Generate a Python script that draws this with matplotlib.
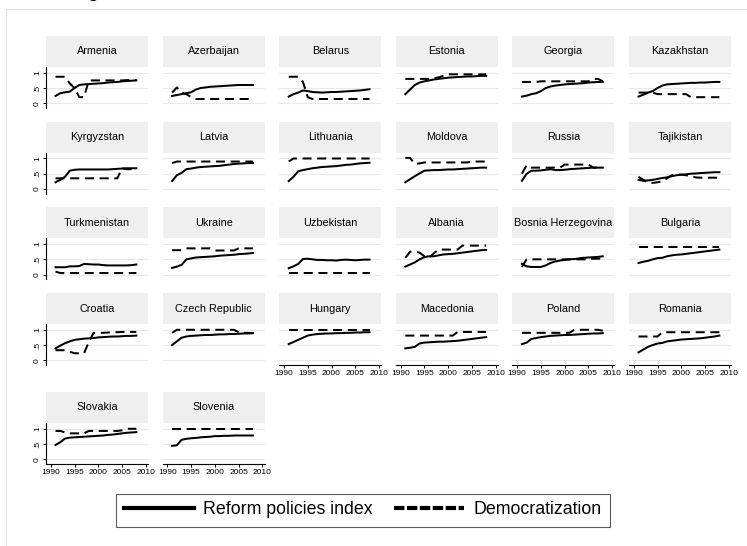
import numpy as np
import matplotlib
matplotlib.use("Agg")
import matplotlib.pyplot as plt
from matplotlib.lines import Line2D
from matplotlib.patches import Rectangle

plt.rcParams['font.family'] = ['Liberation Sans', 'DejaVu Sans']

years = list(range(1991, 2009))

countries = ["Armenia", "Azerbaijan", "Belarus", "Estonia", "Georgia", "Kazakhstan",
             "Kyrgyzstan", "Latvia", "Lithuania", "Moldova", "Russia", "Tajikistan",
             "Turkmenistan", "Ukraine", "Uzbekistan", "Albania", "Bosnia Herzegovina", "Bulgaria",
             "Croatia", "Czech Republic", "Hungary", "Macedonia", "Poland", "Romania",
             "Slovakia", "Slovenia"]

# reform policies index, 1991-2008
reform = {
    "Armenia":      [0.24, 0.33, 0.36, 0.38, 0.50, 0.60, 0.62, 0.63, 0.64, 0.65, 0.66, 0.68, 0.69, 0.70, 0.72, 0.73, 0.74, 0.75],
    "Azerbaijan":   [0.24, 0.27, 0.30, 0.33, 0.36, 0.45, 0.50, 0.52, 0.54, 0.55, 0.56, 0.57, 0.58, 0.59, 0.60, 0.60, 0.60, 0.60],
    "Belarus":      [0.22, 0.30, 0.35, 0.42, 0.40, 0.37, 0.36, 0.35, 0.36, 0.37, 0.37, 0.38, 0.39, 0.40, 0.41, 0.42, 0.44, 0.46],
    "Estonia":      [0.30, 0.45, 0.60, 0.68, 0.72, 0.75, 0.78, 0.80, 0.82, 0.84, 0.85, 0.86, 0.87, 0.88, 0.88, 0.89, 0.90, 0.90],
    "Georgia":      [0.22, 0.25, 0.30, 0.33, 0.40, 0.50, 0.55, 0.58, 0.60, 0.62, 0.63, 0.64, 0.65, 0.66, 0.68, 0.69, 0.70, 0.70],
    "Kazakhstan":   [0.22, 0.28, 0.35, 0.40, 0.50, 0.58, 0.62, 0.63, 0.64, 0.65, 0.66, 0.67, 0.67, 0.68, 0.68, 0.69, 0.70, 0.70],
    "Kyrgyzstan":   [0.22, 0.30, 0.40, 0.60, 0.63, 0.64, 0.64, 0.64, 0.64, 0.64, 0.64, 0.64, 0.65, 0.66, 0.67, 0.68, 0.68, 0.68],
    "Latvia":       [0.26, 0.45, 0.53, 0.65, 0.67, 0.70, 0.72, 0.73, 0.74, 0.75, 0.76, 0.78, 0.80, 0.82, 0.83, 0.84, 0.85, 0.85],
    "Lithuania":    [0.26, 0.40, 0.58, 0.62, 0.65, 0.68, 0.70, 0.72, 0.73, 0.74, 0.75, 0.77, 0.79, 0.80, 0.82, 0.84, 0.85, 0.86],
    "Moldova":      [0.22, 0.32, 0.42, 0.51, 0.60, 0.61, 0.62, 0.62, 0.63, 0.64, 0.64, 0.65, 0.66, 0.67, 0.68, 0.69, 0.70, 0.70],
    "Russia":       [0.27, 0.50, 0.60, 0.60, 0.61, 0.63, 0.65, 0.62, 0.62, 0.63, 0.65, 0.66, 0.67, 0.68, 0.69, 0.70, 0.70, 0.70],
    "Tajikistan":   [0.30, 0.27, 0.28, 0.30, 0.33, 0.36, 0.38, 0.42, 0.45, 0.47, 0.48, 0.50, 0.51, 0.52, 0.53, 0.54, 0.55, 0.55],
    "Turkmenistan": [0.24, 0.24, 0.24, 0.27, 0.27, 0.28, 0.35, 0.34, 0.33, 0.33, 0.31, 0.30, 0.30, 0.30, 0.30, 0.30, 0.31, 0.33],
    "Ukraine":      [0.22, 0.26, 0.32, 0.50, 0.53, 0.56, 0.57, 0.58, 0.59, 0.60, 0.62, 0.63, 0.64, 0.65, 0.67, 0.68, 0.69, 0.71],
    "Uzbekistan":   [0.21, 0.27, 0.35, 0.51, 0.52, 0.50, 0.48, 0.48, 0.47, 0.47, 0.46, 0.48, 0.49, 0.48, 0.47, 0.48, 0.49, 0.49],
    "Albania":      [0.26, 0.33, 0.40, 0.50, 0.57, 0.60, 0.60, 0.63, 0.66, 0.67, 0.68, 0.70, 0.72, 0.74, 0.76, 0.78, 0.80, 0.81],
    "Bosnia Herzegovina": [0.35, 0.27, 0.25, 0.25, 0.25, 0.30, 0.38, 0.43, 0.46, 0.48, 0.50, 0.51, 0.53, 0.55, 0.56, 0.57, 0.58, 0.60],
    "Bulgaria":     [0.38, 0.42, 0.45, 0.50, 0.54, 0.55, 0.60, 0.63, 0.65, 0.66, 0.68, 0.70, 0.72, 0.74, 0.76, 0.78, 0.80, 0.82],
    "Croatia":      [0.39, 0.48, 0.56, 0.62, 0.67, 0.69, 0.71, 0.72, 0.73, 0.75, 0.76, 0.77, 0.78, 0.78, 0.79, 0.80, 0.80, 0.81],
    "Czech Republic": [0.50, 0.62, 0.74, 0.78, 0.80, 0.81, 0.82, 0.83, 0.83, 0.84, 0.85, 0.85, 0.86, 0.86, 0.87, 0.88, 0.88, 0.89],
    "Hungary":      [0.53, 0.60, 0.67, 0.74, 0.81, 0.84, 0.86, 0.87, 0.88, 0.88, 0.89, 0.89, 0.90, 0.90, 0.91, 0.91, 0.92, 0.92],
    "Macedonia":    [0.39, 0.41, 0.44, 0.55, 0.58, 0.59, 0.60, 0.61, 0.61, 0.62, 0.63, 0.64, 0.66, 0.68, 0.70, 0.72, 0.74, 0.76],
    "Poland":       [0.53, 0.58, 0.70, 0.73, 0.76, 0.78, 0.80, 0.81, 0.82, 0.83, 0.83, 0.84, 0.85, 0.86, 0.87, 0.88, 0.88, 0.89],
    "Romania":      [0.26, 0.35, 0.44, 0.50, 0.55, 0.57, 0.62, 0.64, 0.66, 0.68, 0.69, 0.70, 0.71, 0.72, 0.74, 0.76, 0.78, 0.81],
    "Slovakia":     [0.47, 0.56, 0.68, 0.71, 0.72, 0.73, 0.74, 0.75, 0.76, 0.77, 0.78, 0.80, 0.81, 0.83, 0.85, 0.87, 0.88, 0.89],
    "Slovenia":     [0.44, 0.46, 0.64, 0.67, 0.69, 0.70, 0.72, 0.73, 0.74, 0.76, 0.76, 0.77, 0.77, 0.78, 0.78, 0.78, 0.78, 0.78],
}

# democratization, 1991-2008
democ = {
    "Armenia":      [0.87, 0.87, 0.87, 0.65, 0.50, 0.20, 0.20, 0.75, 0.75, 0.75, 0.75, 0.75, 0.75, 0.75, 0.75, 0.76, 0.76, 0.76],
    "Azerbaijan":   [0.35, 0.52, 0.35, 0.30, 0.20, 0.14, 0.14, 0.14, 0.14, 0.14, 0.14, 0.14, 0.14, 0.14, 0.14, 0.14, 0.14, 0.14],
    "Belarus":      [0.87, 0.87, 0.87, 0.70, 0.20, 0.14, 0.14, 0.14, 0.14, 0.14, 0.14, 0.14, 0.14, 0.14, 0.14, 0.14, 0.14, 0.14],
    "Estonia":      [0.80, 0.80, 0.80, 0.80, 0.80, 0.80, 0.82, 0.85, 0.90, 0.95, 0.95, 0.95, 0.95, 0.95, 0.95, 0.95, 0.95, 0.95],
    "Georgia":      [0.70, 0.70, 0.70, 0.70, 0.72, 0.72, 0.72, 0.72, 0.72, 0.72, 0.72, 0.72, 0.72, 0.72, 0.72, 0.80, 0.80, 0.72],
    "Kazakhstan":   [0.35, 0.35, 0.35, 0.35, 0.30, 0.30, 0.30, 0.30, 0.30, 0.30, 0.30, 0.20, 0.20, 0.20, 0.20, 0.20, 0.20, 0.20],
    "Kyrgyzstan":   [0.35, 0.35, 0.35, 0.35, 0.35, 0.35, 0.35, 0.35, 0.35, 0.35, 0.35, 0.35, 0.35, 0.35, 0.68, 0.65, 0.65, 0.65],
    "Latvia":       [0.85, 0.90, 0.90, 0.90, 0.90, 0.90, 0.90, 0.90, 0.90, 0.90, 0.90, 0.90, 0.90, 0.90, 0.90, 0.90, 0.90, 0.90],
    "Lithuania":    [0.90, 1.00, 1.00, 1.00, 1.00, 1.00, 1.00, 1.00, 1.00, 1.00, 1.00, 1.00, 1.00, 1.00, 1.00, 1.00, 1.00, 1.00],
    "Moldova":      [1.02, 1.02, 0.82, 0.84, 0.87, 0.87, 0.87, 0.87, 0.87, 0.87, 0.87, 0.87, 0.87, 0.87, 0.90, 0.90, 0.90, 0.90],
    "Russia":       [0.50, 0.78, 0.70, 0.70, 0.70, 0.70, 0.70, 0.70, 0.70, 0.80, 0.80, 0.80, 0.80, 0.80, 0.80, 0.70, 0.70, 0.70],
    "Tajikistan":   [0.40, 0.30, 0.20, 0.20, 0.22, 0.25, 0.35, 0.45, 0.47, 0.47, 0.45, 0.42, 0.38, 0.37, 0.37, 0.37, 0.37, 0.37],
    "Turkmenistan": [0.10, 0.05, 0.05, 0.05, 0.05, 0.05, 0.05, 0.05, 0.05, 0.05, 0.05, 0.05, 0.05, 0.05, 0.05, 0.05, 0.05, 0.05],
    "Ukraine":      [0.80, 0.80, 0.80, 0.86, 0.86, 0.86, 0.86, 0.86, 0.86, 0.79, 0.79, 0.79, 0.79, 0.79, 0.86, 0.86, 0.86, 0.86],
    "Uzbekistan":   [0.05, 0.05, 0.05, 0.05, 0.05, 0.05, 0.05, 0.05, 0.05, 0.05, 0.05, 0.05, 0.05, 0.05, 0.05, 0.05, 0.05, 0.05],
    "Albania":      [0.55, 0.75, 0.75, 0.72, 0.60, 0.55, 0.70, 0.82, 0.82, 0.82, 0.82, 0.82, 0.95, 0.95, 0.95, 0.95, 0.95, 0.95],
    "Bosnia Herzegovina": [0.25, 0.50, 0.50, 0.50, 0.50, 0.50, 0.50, 0.50, 0.50, 0.50, 0.50, 0.50, 0.50, 0.50, 0.50, 0.52, 0.52, 0.52],
    "Bulgaria":     [0.91, 0.91, 0.91, 0.91, 0.91, 0.91, 0.91, 0.91, 0.91, 0.91, 0.91, 0.91, 0.91, 0.91, 0.91, 0.91, 0.91, 0.91],
    "Croatia":      [0.33, 0.33, 0.33, 0.28, 0.23, 0.23, 0.23, 0.60, 0.90, 0.90, 0.90, 0.91, 0.92, 0.92, 0.93, 0.93, 0.93, 0.93],
    "Czech Republic": [0.90, 1.00, 1.00, 1.00, 1.00, 1.00, 1.00, 1.00, 1.00, 1.00, 1.00, 1.00, 1.00, 1.00, 0.92, 0.90, 0.90, 0.89],
    "Hungary":      [1.00, 1.00, 1.00, 1.00, 1.00, 1.00, 1.00, 1.00, 1.00, 1.00, 1.00, 1.00, 1.00, 1.00, 1.00, 1.00, 1.00, 1.00],
    "Macedonia":    [0.81, 0.81, 0.81, 0.81, 0.81, 0.81, 0.81, 0.81, 0.81, 0.81, 0.81, 0.93, 0.93, 0.93, 0.93, 0.93, 0.93, 0.93],
    "Poland":       [0.90, 0.90, 0.90, 0.90, 0.90, 0.90, 0.90, 0.90, 0.90, 0.90, 0.90, 1.00, 1.00, 1.00, 1.00, 1.00, 1.00, 0.97],
    "Romania":      [0.78, 0.78, 0.78, 0.78, 0.78, 0.92, 0.92, 0.92, 0.92, 0.92, 0.92, 0.92, 0.92, 0.92, 0.92, 0.92, 0.92, 0.92],
    "Slovakia":     [0.93, 0.93, 0.88, 0.85, 0.85, 0.85, 0.85, 0.93, 0.93, 0.93, 0.93, 0.93, 0.93, 0.93, 0.95, 1.00, 1.00, 1.00],
    "Slovenia":     [1.00, 1.00, 1.00, 1.00, 1.00, 1.00, 1.00, 1.00, 1.00, 1.00, 1.00, 1.00, 1.00, 1.00, 1.00, 1.00, 1.00, 1.00],
}

yticks = [0, 0.5, 1]
yticklabels = ["0", ".5", "1"]
xticks = [1990, 1995, 2000, 2005, 2010]

W, H = 747, 546
fig = plt.figure(figsize=(W / 100, H / 100), dpi=100)

# light frame around the graph region
fig.add_artist(Rectangle((5.5 / W, -0.2), 2, 1.2 - 9 / H, transform=fig.transFigure,
                         fill=False, edgecolor='#e4e4e4', lw=0.8))
# descender of the caption text cropped off above
fig.text(93 / W, 1 + 3 / H, "g", fontsize=14, ha='center', va='baseline')

col_x = [46 + c * 116.6 for c in range(6)]
row_top = [36, 121.7, 207.3, 293, 392]
pw, sh, ph = 102, 31, 41

def fbox(x, top, w, h):
    return [x / W, 1 - (top + h) / H, w / W, h / H]

n = len(countries)
for i, name in enumerate(countries):
    r, c = divmod(i, 6)
    x0, t0 = col_x[c], row_top[r]

    st = fig.add_axes(fbox(x0, t0, pw, sh))
    st.set_facecolor('#efefef')
    st.set_xticks([]); st.set_yticks([])
    for s in st.spines.values():
        s.set_visible(False)
    st.text(0.5, 0.5, name, ha='center', va='center', fontsize=7.8, transform=st.transAxes)

    ax = fig.add_axes(fbox(x0, t0 + sh, pw, ph))
    ax.set_xlim(1989.0, 2010.45)
    ax.set_ylim(-0.155, 1.19)
    for yv in yticks:
        ax.axhline(yv, color='#e9e9e9', lw=0.8, zorder=0)
    ax.plot(years, reform[name], color='black', lw=1.45, solid_joinstyle='round')
    ax.plot(years, democ[name], color='black', lw=1.45, dashes=(4.5, 2.8))

    for s in ax.spines.values():
        s.set_visible(False)

    if c == 0:
        ax.spines['left'].set_visible(True)
        ax.spines['left'].set_linewidth(0.8)
        ax.set_yticks(yticks)
        ax.set_yticklabels(yticklabels, rotation=90, va='center')
        ax.tick_params(axis='y', length=2.2, width=0.7, pad=1.5, labelsize=6)
    else:
        ax.set_yticks([])

    if i + 6 >= n:
        ax.spines['bottom'].set_visible(True)
        ax.spines['bottom'].set_linewidth(0.8)
        ax.set_xticks(xticks)
        ax.tick_params(axis='x', length=2.2, width=0.7, pad=1.5, labelsize=6)
    else:
        ax.set_xticks([])

handles = [Line2D([], [], color='black', lw=3),
           Line2D([], [], color='black', lw=3, dashes=(2.5, 0.6))]
leg = fig.legend(handles, ["Reform policies index", "Democratization"],
                 loc='center', bbox_to_anchor=(363 / W, 1 - 510 / H), ncol=2,
                 fontsize=12.8, frameon=True, fancybox=False, edgecolor='#333333',
                 handlelength=3.9, handletextpad=0.55, columnspacing=1.2, borderpad=0.45)
leg.get_frame().set_linewidth(0.8)

fig.savefig("out.png", dpi=100)
